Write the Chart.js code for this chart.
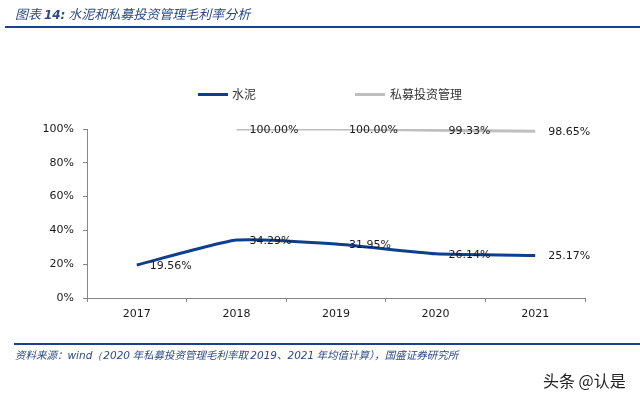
<!DOCTYPE html>
<html>
<head>
<meta charset="utf-8">
<script src="https://cdn.jsdelivr.net/npm/chart.js@4.4.0/dist/chart.umd.min.js"></script>
<style>
  html, body { margin: 0; padding: 0; background: #fff; }
  #wrap { position: relative; width: 640px; height: 398px; overflow: hidden; }
  #c { position: absolute; left: 0; top: 0; }
  .txt { position: absolute; white-space: nowrap; }
  #title { left: 15px; top: 4px; font: italic 13px "Noto Sans CJK SC", sans-serif; color: #2b4a80; }
  #title b { font-family: "DejaVu Sans", sans-serif; font-size: 12px; }
  #rule1 { position: absolute; left: 5px; top: 26px; width: 635px; height: 2px; background: #1e3f8a; }
  #rule2 { position: absolute; left: 14px; top: 343px; width: 626px; height: 2px; background: #1e3f8a; }
  #source { left: 15px; top: 347px; font: italic 10.5px "Noto Sans CJK SC", sans-serif; color: #2b4a80; }
  #source span { font-family: "DejaVu Sans", sans-serif; font-size: 10.5px; }
  #mark { left: 543px; top: 368px; font: 16px "Noto Sans CJK SC", sans-serif; color: #222; }
  .leg { position: absolute; font: 12px "Noto Sans CJK SC", serif; color: #333; top: 85px; }
  .legline { position: absolute; height: 3px; width: 30px; top: 93px; }
</style>
</head>
<body>
<div id="wrap">
  <canvas id="c" width="640" height="398"></canvas>
  <div id="title" class="txt">图表 <b>14:</b> 水泥和私募投资管理毛利率分析</div>
  <div id="rule1"></div>
  <div class="legline" id="l1" style="left:198px;"></div>
  <div class="leg" id="t1" style="left:232px;"></div>
  <div class="legline" id="l2" style="left:355px;"></div>
  <div class="leg" id="t2" style="left:390px;"></div>
  <div id="rule2"></div>
  <div id="source" class="txt">资料来源：<span>wind（2020</span> 年私募投资管理毛利率取 <span>2019</span>、<span>2021</span> 年均值计算），国盛证券研究所</div>
  <div id="mark" class="txt">头条 @认是</div>
</div>
<script>
const categories = ['2017', '2018', '2019', '2020', '2021'];
const seriesNames = ['水泥', '私募投资管理'];
const cementValues = [19.56, 34.29, 31.95, 26.14, 25.17];
const privateEquityValues = [null, 100.00, 100.00, 99.33, 98.65];
const yTickValues = [0, 20, 40, 60, 80, 100];

const colors = ['#0d3f8e', '#bfbfbf'];

document.getElementById('l1').style.background = colors[0];
document.getElementById('l2').style.background = colors[1];
document.getElementById('t1').textContent = seriesNames[0];
document.getElementById('t2').textContent = seriesNames[1];

const labelPlugin = {
  id: 'valueLabels',
  afterDatasetsDraw(chart) {
    const ctx = chart.ctx;
    ctx.save();
    ctx.font = '11px "DejaVu Sans", sans-serif';
    ctx.fillStyle = '#1a1a1a';
    ctx.textAlign = 'left';
    ctx.textBaseline = 'middle';
    chart.data.datasets.forEach((ds, i) => {
      const meta = chart.getDatasetMeta(i);
      meta.data.forEach((pt, j) => {
        const v = ds.data[j];
        if (v === null || v === undefined) return;
        ctx.fillText(v.toFixed(2) + '%', pt.x + 13, pt.y + 1);
      });
    });
    ctx.restore();
  }
};

new Chart(document.getElementById('c'), {
  type: 'line',
  data: {
    labels: categories,
    datasets: [
      {
        label: seriesNames[0],
        data: cementValues,
        borderColor: colors[0],
        backgroundColor: colors[0],
        borderWidth: 3,
        pointRadius: 0,
        tension: 0.15
      },
      {
        label: seriesNames[1],
        data: privateEquityValues,
        borderColor: colors[1],
        backgroundColor: colors[1],
        borderWidth: 3,
        pointRadius: 0,
        tension: 0.15
      }
    ]
  },
  options: {
    responsive: false,
    animation: false,
    devicePixelRatio: 1,
    layout: { padding: { left: 0, right: 55, top: 129, bottom: 70 } },
    plugins: { legend: { display: false }, tooltip: { enabled: false } },
    scales: {
      x: {
        offset: true,
        afterFit(s) { s.height = 30; },
        grid: { display: true, offset: true, drawOnChartArea: false, drawTicks: true, tickLength: 4, color: '#868686' },
        border: { display: true, color: '#868686', width: 1 },
        ticks: { color: '#1a1a1a', font: { family: 'DejaVu Sans', size: 11 }, padding: 6 }
      },
      y: {
        min: 0, max: 100,
        afterFit(s) { s.width = 87; },
        afterBuildTicks(s) { s.ticks = yTickValues.map(v => ({ value: v })); },
        grid: { display: true, drawOnChartArea: false, drawTicks: true, tickLength: 4, color: '#868686' },
        border: { display: true, color: '#868686', width: 1 },
        ticks: { color: '#1a1a1a', font: { family: 'DejaVu Sans', size: 11 }, padding: 9, callback: v => v + '%' }
      }
    }
  },
  plugins: [labelPlugin]
});
</script>
</body>
</html>
